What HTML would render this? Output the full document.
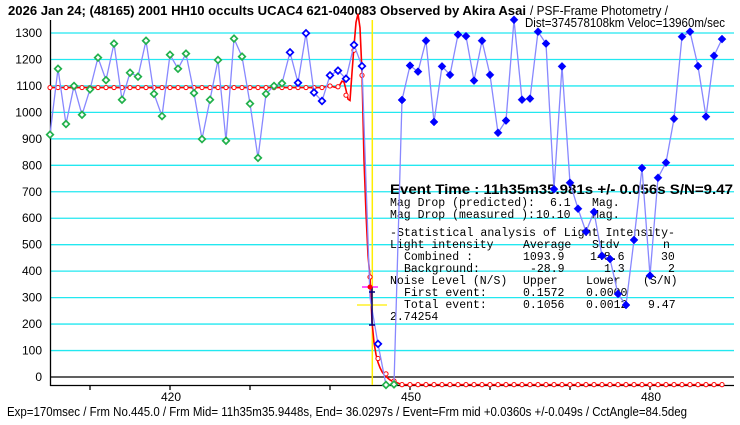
<!DOCTYPE html>
<html><head><meta charset="utf-8"><style>
html,body{margin:0;padding:0;background:#fff;}
svg{display:block;}
text{font-family:"Liberation Sans",sans-serif;}
.mono{font-family:"Liberation Mono",monospace;font-size:11.5px;fill:#000;}
</style></head><body>
<svg id="chart" width="740" height="425" viewBox="0 0 740 425" xmlns="http://www.w3.org/2000/svg">
<g id="grid"></g>
<g id="yaxis"></g>
<g id="xaxis"></g>
<text x="8" y="15" font-size="13" font-weight="bold" textLength="518" lengthAdjust="spacingAndGlyphs">2026 Jan 24; (48165) 2001 HH10 occults UCAC4 621-040083 Observed by Akira Asai</text>
<text x="530" y="15" font-size="13" textLength="138" lengthAdjust="spacingAndGlyphs">/ PSF-Frame Photometry /</text>
<text x="525" y="27" font-size="13" textLength="200" lengthAdjust="spacingAndGlyphs">Dist=374578108km Veloc=13960m/sec</text>
<g id="stats">
<text x="390" y="194" font-size="13.5" font-weight="bold" textLength="343" lengthAdjust="spacingAndGlyphs">Event Time : 11h35m35.981s  +/- 0.056s  S/N=9.47</text>
<text class="mono" x="390" y="206">Mag Drop (predicted):</text>
<text class="mono" x="550" y="206">6.1</text>
<text class="mono" x="592" y="206">Mag.</text>
<text class="mono" x="390" y="218">Mag Drop (measured ):</text>
<text class="mono" x="536" y="218">10.10</text>
<text class="mono" x="592" y="218">Mag.</text>
<text class="mono" x="390" y="236" textLength="285" lengthAdjust="spacingAndGlyphs">-Statistical analysis of Light Intensity-</text>
<text class="mono" x="390" y="248">Light intensity</text>
<text class="mono" x="523" y="248">Average</text>
<text class="mono" x="592" y="248">Stdv</text>
<text class="mono" x="663" y="248">n</text>
<text class="mono" x="404" y="260">Combined  :</text>
<text class="mono" x="523" y="260">1093.9</text>
<text class="mono" x="590" y="260">148.6</text>
<text class="mono" x="661" y="260">30</text>
<text class="mono" x="404" y="272">Background:</text>
<text class="mono" x="530" y="272">-28.9</text>
<text class="mono" x="604" y="272">1.3</text>
<text class="mono" x="668" y="272">2</text>
<text class="mono" x="390" y="284">Noise Level (N/S)</text>
<text class="mono" x="523" y="284">Upper</text>
<text class="mono" x="586" y="284">Lower</text>
<text class="mono" x="643" y="284">(S/N)</text>
<text class="mono" x="404" y="296">First event:</text>
<text class="mono" x="523" y="296">0.1572</text>
<text class="mono" x="586" y="296">0.0000</text>
<text class="mono" x="404" y="308">Total event:</text>
<text class="mono" x="523" y="308">0.1056</text>
<text class="mono" x="586" y="308">0.0012</text>
<text class="mono" x="648" y="308">9.47</text>
<text class="mono" x="390" y="320">2.74254</text>
</g>
<g id="marks"></g>
<text x="7" y="416" font-size="12.5" textLength="680" lengthAdjust="spacingAndGlyphs">Exp=170msec / Frm No.445.0 / Frm Mid= 11h35m35.9448s, End= 36.0297s / Event=Frm mid +0.0360s +/-0.049s / CctAngle=84.5deg</text>
</svg>
<script>
const firstFrame = 405;
const observed = [916,1165,956,1100,991,1087,1207,1122,1260,1048,1150,1135,1271,1070,986,1218,1165,1222,1073,899,1048,1198,893,1279,1211,1033,828,1070,1100,1110,
1227,1112,1299,1075,1043,1140,1158,1127,1255,1175,300,125,-30,-28,
1047,1177,1154,1271,964,1174,1142,1294,1288,1120,1271,1142,923,969,1350,1048,1052,1305,1260,710,1174,734,636,549,624,458,446,314,272,518,790,383,753,810,976,1286,1305,1175,984,1214,1277];
const modelFrames = [1093.9,1093.9,1093.9,1093.9,1093.9,1093.9,1093.9,1093.9,1093.9,1093.9,1093.9,1093.9,1093.9,1093.9,1093.9,1093.9,1093.9,1093.9,1093.9,1093.9,1093.9,1093.9,1093.9,1093.9,1093.9,1093.9,1093.9,1093.9,1093.9,1093.9,1093.9,1093.9,1093.9,1093.9,1093.9,
1100,1097,1065,1235,1140,378,70,12,-15,
-28.9,-28.9,-28.9,-28.9,-28.9,-28.9,-28.9,-28.9,-28.9,-28.9,-28.9,-28.9,-28.9,-28.9,-28.9,-28.9,-28.9,-28.9,-28.9,-28.9,-28.9,-28.9,-28.9,-28.9,-28.9,-28.9,-28.9,-28.9,-28.9,-28.9,-28.9,-28.9,-28.9,-28.9,-28.9,-28.9,-28.9,-28.9,-28.9,-28.9,-28.9];
const curveStart = 440;
const curveStep = 0.25;
const modelCurve = [1100,1098,1096,1094,1097,1105,1118,1115,1085,1050,1045,1150,1250,1340,1372,1320,1150,820,620,460,378,210,130,85,55,35,20,10,2,-5,-11,-15,-18,-20,-23,-26,-28.9];
const yTicks = [0,100,200,300,400,500,600,700,800,900,1000,1100,1200,1300];
const xTickFrames = [410,420,430,440,450,460,470,480];
const xLabels = [420,450,480];
const eventFrame = 445.25;

const NS='http://www.w3.org/2000/svg';
const X = f => 50 + (f - 405) * 8;
const Y = v => 377 - v * 0.2646;
function mk(tag, parent, attrs){const e=document.createElementNS(NS,tag);for(const k in attrs)e.setAttribute(k,attrs[k]);parent.appendChild(e);return e;}
const grid=document.getElementById('grid'), yax=document.getElementById('yaxis'), xax=document.getElementById('xaxis'), marks=document.getElementById('marks');

yTicks.forEach(t=>{
  if(t>0){const l=mk('line',grid,{x1:50,x2:734,y1:Y(t),y2:Y(t),stroke:'#22e8f0','stroke-width':1.3});
  
  }
  const tx=mk('text',yax,{x:42,y:Y(t)+4,'font-size':12,'text-anchor':'end'});tx.textContent=t;
  
  
});
const zl=mk('line',grid,{x1:50,x2:734,y1:Y(0),y2:Y(0),stroke:'#000','stroke-width':1.3});


const ya=mk('line',yax,{x1:50.5,x2:50.5,y1:20,y2:386,stroke:'#000','stroke-width':1.3});


const xa=mk('line',xax,{x1:50,x2:734,y1:385.5,y2:385.5,stroke:'#000','stroke-width':1.3});


xTickFrames.forEach(f=>{const t=mk('line',xax,{x1:X(f),x2:X(f),y1:385,y2:390,stroke:'#000','stroke-width':1.3});
  
  });
xLabels.forEach(f=>{const t=mk('text',xax,{x:X(f)+1,y:401,'font-size':12,'text-anchor':'middle'});t.textContent=f;
  
  });

const ev=mk('line',marks,{x1:X(eventFrame)+0.3,x2:X(eventFrame)+0.3,y1:20,y2:385,stroke:'#ffee00','stroke-width':1.5});



let pts=[];
observed.forEach((v,i)=>{const f=firstFrame+i; if(f<curveStart) pts.push([X(f),Y(modelFrames[i])]);});
modelCurve.forEach((v,i)=>pts.push([X(curveStart+i*curveStep),Y(v)]));
const curveEnd=curveStart+(modelCurve.length-1)*curveStep;
modelFrames.forEach((v,i)=>{const f=firstFrame+i; if(f>curveEnd) pts.push([X(f),Y(v)]);});
const ml=mk('polyline',marks,{points:pts.map(p=>p.join(',')).join(' '),fill:'none',stroke:'#ff0000','stroke-width':1.6});


modelFrames.forEach((v,i)=>{const c=mk('circle',marks,{cx:X(firstFrame+i),cy:Y(v),r:2.1,fill:'#fff',stroke:'#ff0000','stroke-width':1});
  
  });

const ol=mk('polyline',marks,{points:observed.map((v,i)=>X(firstFrame+i)+','+Y(v)).join(' '),fill:'none',stroke:'#8888ff','stroke-width':1.3});



const eb=[['line',{x1:362,x2:378,y1:287,y2:287,stroke:'#ff00ff','stroke-width':1.3}],
['line',{x1:357,x2:387,y1:305,y2:305,stroke:'#ffee00','stroke-width':1.3}],
['line',{x1:372,x2:372,y1:287,y2:325,stroke:'#000080','stroke-width':1.5}],
['line',{x1:369,x2:375,y1:325,y2:325,stroke:'#000080','stroke-width':1.5}],
['line',{x1:369,x2:375,y1:292,y2:292,stroke:'#000080','stroke-width':1.5}],
['circle',{cx:370,cy:287,r:2.5,fill:'#ff0000'}]];
eb.forEach(([t,a])=>{const e=mk(t,marks,a);
  
  });

function diamond(x,y,s){return `${x},${y-s} ${x+s},${y} ${x},${y+s} ${x-s},${y}`;}
observed.forEach((v,i)=>{
  const f=firstFrame+i, x=X(f), y=Y(v);
  let el;
  if(f<=434 || f===447 || f===448){
    el=mk('polygon',marks,{points:diamond(x,y,3.3),fill:'#fff',stroke:'#22b14c','stroke-width':1.7});
  } else if(f<=446){
    if(f===445) return;
    el=mk('polygon',marks,{points:diamond(x,y,3.3),fill:'#fff',stroke:'#0000ff','stroke-width':1.7});
  } else {
    el=mk('polygon',marks,{points:diamond(x,y,4),fill:'#0000ff',stroke:'#0000ff','stroke-width':0.5});
  }
  
  
});
</script>
</body></html>
